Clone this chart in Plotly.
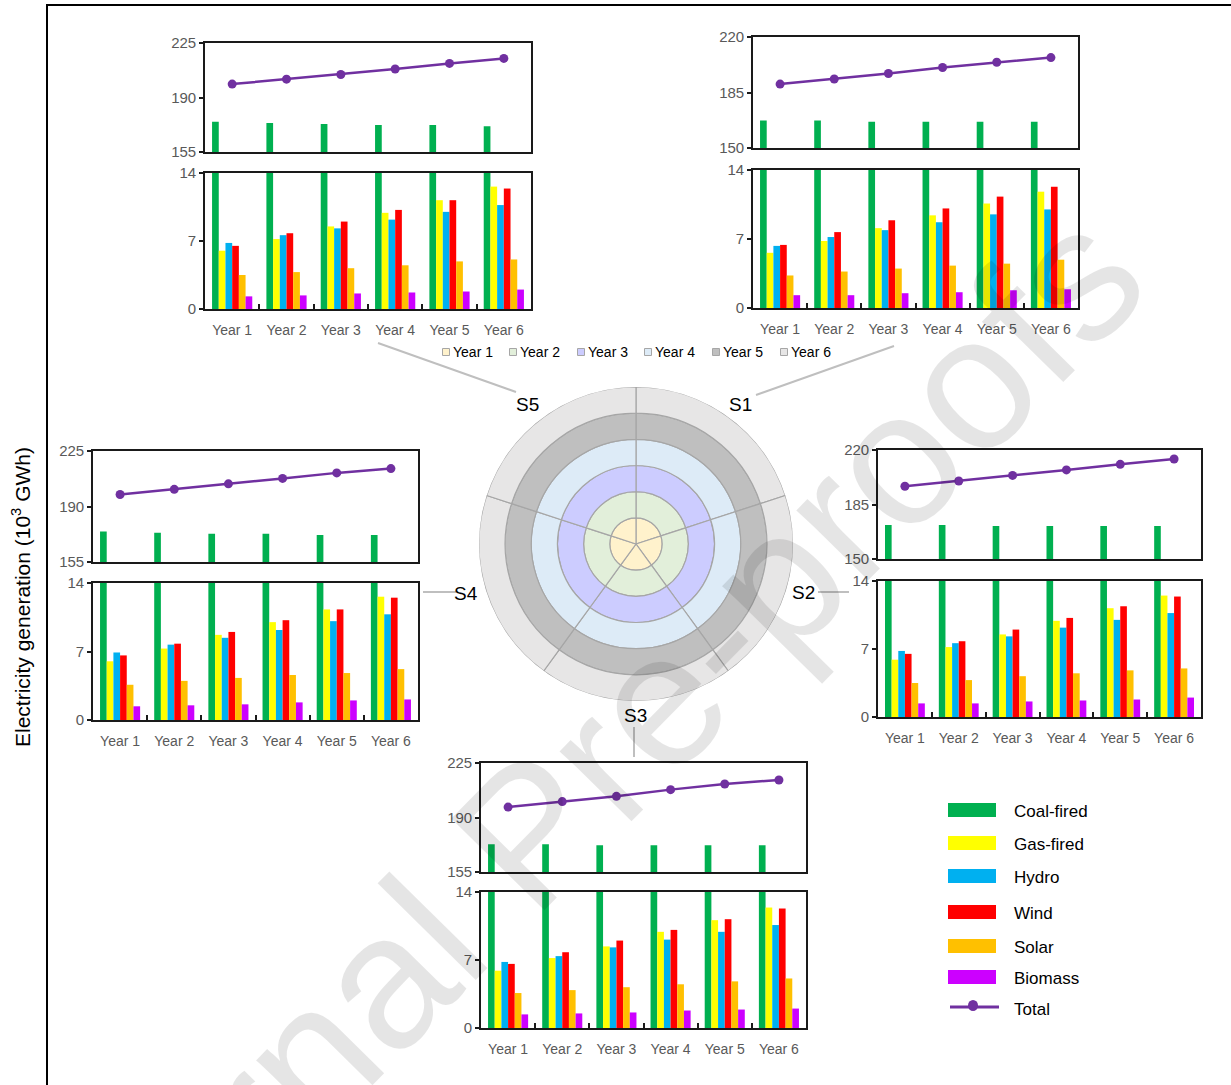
import plotly.graph_objects as go

W, H = 1231, 1085

years = ["Year 1", "Year 2", "Year 3", "Year 4", "Year 5", "Year 6"]
scenarios = ["S1", "S2", "S3", "S4", "S5"]

# Electricity generation by source (10^3 GWh); one row per scenario, S1..S5
coal_fired = [
    [167.3, 167.3, 166.5, 166.5, 166.5, 166.5],
    [171.8, 171.8, 171.2, 171.2, 171.2, 171.2],
    [172.8, 172.8, 172.1, 172.1, 172.1, 172.1],
    [174.2, 173.4, 172.8, 172.8, 172.1, 172.1],
    [174.5, 173.7, 173.0, 172.4, 172.4, 171.6],
]
gas_fired = [
    [5.6, 6.8, 8.1, 9.4, 10.6, 11.8],
    [5.9, 7.2, 8.5, 9.9, 11.2, 12.5],
    [5.9, 7.2, 8.4, 9.9, 11.1, 12.4],
    [6.0, 7.3, 8.7, 10.0, 11.3, 12.6],
    [6.0, 7.2, 8.5, 9.9, 11.2, 12.6],
]
hydro = [
    [6.3, 7.2, 7.9, 8.7, 9.5, 10.0],
    [6.8, 7.6, 8.3, 9.2, 10.0, 10.7],
    [6.8, 7.4, 8.3, 9.1, 9.9, 10.6],
    [6.9, 7.7, 8.4, 9.2, 10.1, 10.8],
    [6.8, 7.6, 8.3, 9.2, 10.0, 10.7],
]
wind = [
    [6.4, 7.7, 8.9, 10.1, 11.3, 12.3],
    [6.5, 7.8, 9.0, 10.2, 11.4, 12.4],
    [6.6, 7.8, 9.0, 10.1, 11.2, 12.3],
    [6.6, 7.8, 9.0, 10.2, 11.3, 12.5],
    [6.5, 7.8, 9.0, 10.2, 11.2, 12.4],
]
solar = [
    [3.3, 3.7, 4.0, 4.3, 4.5, 4.9],
    [3.5, 3.8, 4.2, 4.5, 4.8, 5.0],
    [3.6, 3.9, 4.2, 4.5, 4.8, 5.1],
    [3.6, 4.0, 4.3, 4.6, 4.8, 5.2],
    [3.5, 3.8, 4.2, 4.5, 4.9, 5.1],
]
biomass = [
    [1.3, 1.3, 1.5, 1.6, 1.8, 1.9],
    [1.4, 1.4, 1.6, 1.7, 1.8, 2.0],
    [1.4, 1.5, 1.6, 1.8, 1.9, 2.0],
    [1.4, 1.5, 1.6, 1.8, 2.0, 2.1],
    [1.3, 1.4, 1.6, 1.7, 1.8, 2.0],
]
total = [
    [190.3, 193.5, 197.0, 200.8, 204.1, 207.0],
    [196.7, 200.1, 203.7, 207.2, 210.8, 214.2],
    [196.7, 200.2, 203.6, 207.9, 211.5, 214.1],
    [197.6, 200.8, 204.3, 207.7, 211.2, 213.9],
    [198.6, 201.8, 204.8, 208.3, 211.9, 215.1],
]

sources = ["Coal-fired", "Gas-fired", "Hydro", "Wind", "Solar", "Biomass"]
source_values = [coal_fired, gas_fired, hydro, wind, solar, biomass]

# broken value axis: upper part for the large values, lower part 0-14
upper_ticks = [
    [150, 185, 220],
    [150, 185, 220],
    [155, 190, 225],
    [155, 190, 225],
    [155, 190, 225],
]
lower_ticks = [0, 7, 14]

# central ring diagram: one ring per year, one equal slice per scenario
ring_years = years
slice_share = [1, 1, 1, 1, 1]

# ---------------- styling ----------------
source_colors = ["#00B050", "#FFFF00", "#00B0F0", "#FF0000", "#FFC000", "#CC00FF"]
total_color = "#7030A0"
ring_colors = ["#FFF2CC", "#E2EFDA", "#CCCCFF", "#DDEBF7", "#BFBFBF", "#E7E6E6"]
ring_edge = "#A6A6A6"
axis_col = "#1A1A1A"
tick_col = "#595959"
sans = "Liberation Sans, Arial, sans-serif"

# panel boxes in pixels: x0, x1, upper top, upper bottom, lower top, lower bottom
boxes = {
    "S1": (753, 1078, 37, 148, 170, 308),
    "S2": (878, 1201, 450, 559, 581, 717),
    "S3": (481, 806, 763, 872, 892, 1028),
    "S4": (93, 418, 451, 562, 583, 720),
    "S5": (205, 531, 43, 152, 173, 309),
}


def fx(px):
    return px / W


def fy(py):
    return 1 - py / H


fig = go.Figure()
axes = {}

for k, s in enumerate(scenarios):
    x0, x1, ut, ub, lt, lb = boxes[s]
    n_up, n_lo = 2 * k + 1, 2 * k + 2
    for n, (top, bot) in ((n_up, (ut, ub)), (n_lo, (lt, lb))):
        xa = "x" if n == 1 else f"x{n}"
        ya = "y" if n == 1 else f"y{n}"
        for j, name in enumerate(sources):
            fig.add_trace(go.Bar(
                x=years, y=source_values[j][k], name=name,
                marker=dict(color=source_colors[j], line=dict(width=0)),
                xaxis=xa, yaxis=ya, showlegend=False,
            ))
        lower = n == n_lo
        ticks = lower_ticks if lower else upper_ticks[k]
        axes["xaxis" if n == 1 else f"xaxis{n}"] = dict(
            domain=[fx(x0), fx(x1)], anchor=ya, type="category",
            categoryarray=years, showline=True, mirror=True,
            linecolor=axis_col, linewidth=1.6, showgrid=False, zeroline=False,
            ticks="inside" if lower else "", tickson="boundaries",
            ticklen=5, tickwidth=1.5, tickcolor=axis_col,
            showticklabels=lower, ticklabelstandoff=7, tickangle=0,
            tickfont=dict(family=sans, size=14, color=tick_col),
        )
        axes["yaxis" if n == 1 else f"yaxis{n}"] = dict(
            domain=[fy(bot), fy(top)], anchor=xa, range=[ticks[0], ticks[-1]],
            tickvals=ticks, showline=True, mirror=True,
            linecolor=axis_col, linewidth=1.6, showgrid=False, zeroline=False,
            ticks="outside", ticklen=4, tickwidth=1.5, tickcolor=axis_col,
            tickfont=dict(family=sans, size=15, color=tick_col),
        )
    ux = "x" if n_up == 1 else f"x{n_up}"
    uy = "y" if n_up == 1 else f"y{n_up}"
    fig.add_trace(go.Scatter(
        x=years, y=total[k], mode="lines+markers", name="Total",
        line=dict(color=total_color, width=2.5),
        marker=dict(color=total_color, size=9),
        xaxis=ux, yaxis=uy, showlegend=False, cliponaxis=False,
    ))

# rings, stacked outwards from Year 1
n_sl = len(scenarios)
theta = [360 / n_sl * (i + 0.5) for i in range(n_sl)]
for i, yr in enumerate(ring_years):
    fig.add_trace(go.Barpolar(
        r=slice_share, theta=theta, width=[360 / n_sl] * n_sl, name=yr,
        marker=dict(color=ring_colors[i], line=dict(color=ring_edge, width=1.2)),
        showlegend=False, subplot="polar",
    ))

cx, cy, R = 636, 544, 157
fig.update_layout(
    width=W, height=H, autosize=False, margin=dict(l=0, r=0, t=0, b=0, autoexpand=False),
    paper_bgcolor="white", plot_bgcolor="white",
    barmode="group", bargap=0.26, bargroupgap=0,
    font=dict(family=sans, color="black"),
    polar=dict(
        domain=dict(x=[fx(cx - R), fx(cx + R)], y=[fy(cy + R), fy(cy - R)]),
        bgcolor="rgba(0,0,0,0)", barmode="stack", bargap=0, hole=0,
        radialaxis=dict(visible=False, range=[0, len(ring_years)]),
        angularaxis=dict(visible=False, rotation=90, direction="clockwise"),
    ),
    **axes,
)

shapes = []
annots = []

# outer frame
shapes.append(dict(type="rect", xref="paper", yref="paper",
                   x0=fx(47), x1=fx(1245), y0=fy(1100), y1=fy(5),
                   line=dict(color="black", width=2)))

# leader lines from ring labels to panels
leaders = {
    "S5": ((378, 343), (516, 392)),
    "S1": ((894, 346), (756, 395)),
    "S4": ((423, 592), (456, 592)),
    "S2": ((818, 592), (849, 592)),
    "S3": ((634, 727), (634, 757)),
}
label_pos = {"S1": (740, 404), "S2": (803, 592), "S3": (635, 715),
             "S4": (466, 593), "S5": (527, 404)}
for s in scenarios:
    (a, b), (c, d) = leaders[s]
    shapes.append(dict(type="line", xref="paper", yref="paper",
                       x0=fx(a), y0=fy(b), x1=fx(c), y1=fy(d),
                       line=dict(color="#BFBFBF", width=2)))
    lx, ly = label_pos[s]
    annots.append(dict(x=fx(lx), y=fy(ly), xref="paper", yref="paper", text=s,
                       showarrow=False, font=dict(family=sans, size=19, color="black"),
                       xanchor="center", yanchor="middle"))

# ring legend row
ring_key_x = [446, 513, 581, 648, 716, 784]
for i, yr in enumerate(ring_years):
    kx, ky = ring_key_x[i], 352
    shapes.append(dict(type="rect", xref="paper", yref="paper",
                       x0=fx(kx - 3.5), x1=fx(kx + 3.5), y0=fy(ky + 3.5), y1=fy(ky - 3.5),
                       fillcolor=ring_colors[i], line=dict(color="#A6A6A6", width=1)))
    annots.append(dict(x=fx(kx + 5), y=fy(ky), xref="paper", yref="paper", text=yr,
                       showarrow=False, font=dict(family=sans, size=14, color="black"),
                       xanchor="left", yanchor="middle"))

# source legend
key_y = [810, 843, 876, 912, 946, 977]
for j, name in enumerate(sources):
    shapes.append(dict(type="rect", xref="paper", yref="paper",
                       x0=fx(948), x1=fx(996), y0=fy(key_y[j] + 7), y1=fy(key_y[j] - 7),
                       fillcolor=source_colors[j], line=dict(width=0)))
    annots.append(dict(x=fx(1012), y=fy(key_y[j] + 1), xref="paper", yref="paper", text=name,
                       showarrow=False, font=dict(family=sans, size=17, color="black"),
                       xanchor="left", yanchor="middle"))
shapes.append(dict(type="line", xref="paper", yref="paper",
                   x0=fx(950), x1=fx(999), y0=fy(1007), y1=fy(1007),
                   line=dict(color=total_color, width=3)))
shapes.append(dict(type="circle", xref="paper", yref="paper",
                   x0=fx(968), x1=fx(978), y0=fy(1011), y1=fy(1000),
                   fillcolor=total_color, line=dict(width=0)))
annots.append(dict(x=fx(1012), y=fy(1009), xref="paper", yref="paper", text="Total",
                   showarrow=False, font=dict(family=sans, size=17, color="black"),
                   xanchor="left", yanchor="middle"))

# common value-axis title
annots.append(dict(x=fx(21), y=fy(597), xref="paper", yref="paper",
                   text="Electricity generation (10<sup>3</sup> GWh)", textangle=-90,
                   showarrow=False, font=dict(family=sans, size=21, color="black"),
                   xanchor="center", yanchor="middle"))

# diagonal watermark
annots.append(dict(x=fx(560), y=fy(800), xref="paper", yref="paper",
                   text="Journal Pre-proofs", textangle=-45.5, showarrow=False,
                   font=dict(family=sans, size=190, color="rgba(0,0,0,0.1)"),
                   xanchor="center", yanchor="middle"))

fig.update_layout(shapes=shapes, annotations=annots)
fig.write_html(
    "out.html",
    config={"responsive": False},
    post_script="document.body.style.margin='0';document.body.style.overflow='hidden';",
)
